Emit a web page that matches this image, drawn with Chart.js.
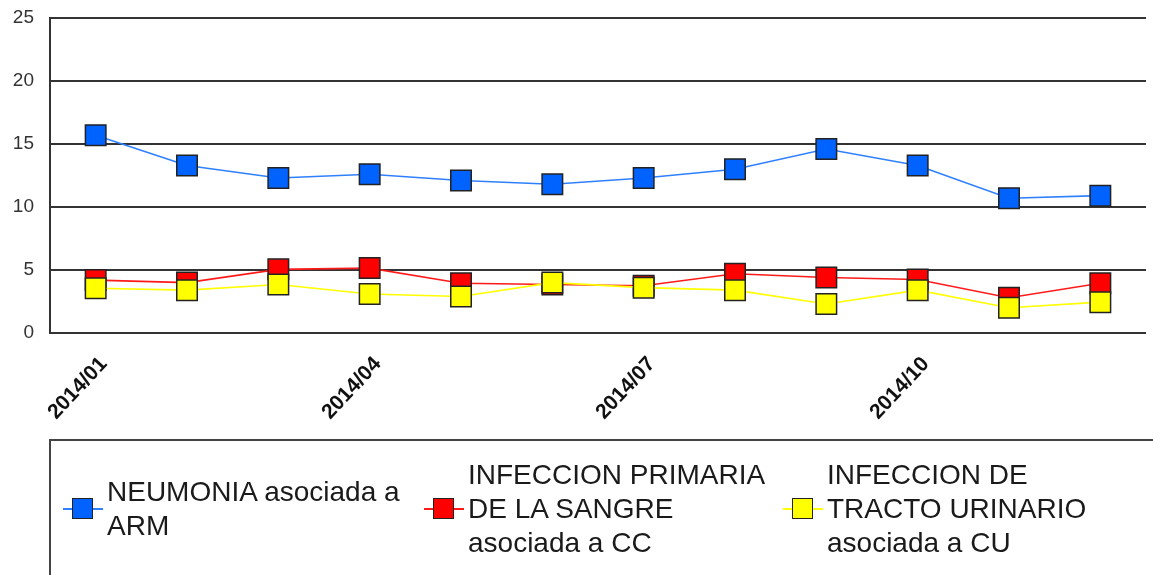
<!DOCTYPE html>
<html>
<head>
<meta charset="utf-8">
<script src="https://cdn.jsdelivr.net/npm/chart.js@4/dist/chart.umd.min.js"></script>
<style>
html,body{margin:0;padding:0;background:#fff;overflow:hidden;width:1153px;height:575px;}
#wrap{position:absolute;left:0;top:0;width:1162px;height:440px;}
#legend{position:absolute;left:49px;top:439px;width:1200px;height:200px;border:2px solid #444;box-sizing:border-box;}
.item{position:absolute;top:509px;transform:translateY(-50%);display:flex;align-items:center;}
.mk{position:relative;width:40px;height:24px;flex:none;}
.mk .ln{position:absolute;left:0;right:0;top:11px;height:2px;}
.mk .sq{position:absolute;left:9px;top:1px;width:19px;height:19px;border:1.5px solid #222;}
.tx{font-family:"Liberation Sans",Arial,sans-serif;font-size:28px;line-height:34px;color:#1a1a1a;margin-left:4px;width:320px;}
</style>
</head>
<body>
<div id="wrap"><canvas id="c" width="1162" height="440"></canvas></div>
<div id="legend"></div>
<script>
const months = ["2014/01","2014/02","2014/03","2014/04","2014/05","2014/06","2014/07","2014/08","2014/09","2014/10","2014/11","2014/12"];
const seriesNames = ["NEUMONIA asociada a ARM","INFECCION PRIMARIA DE LA SANGRE asociada a CC","INFECCION DE TRACTO URINARIO asociada a CU"];
const neumonia = [15.7, 13.3, 12.3, 12.6, 12.1, 11.8, 12.3, 13.0, 14.6, 13.3, 10.7, 10.9];
const sangre   = [4.2, 4.0, 5.05, 5.15, 3.95, 3.85, 3.75, 4.7, 4.4, 4.25, 2.8, 3.95];
const urinario = [3.55, 3.4, 3.85, 3.1, 2.9, 4.0, 3.6, 3.4, 2.3, 3.4, 2.0, 2.45];
const yTicks = [0, 5, 10, 15, 20, 25];

const lineColors = ["#2f80ff", "#ff1a1a", "#ffff00"];
const fillColors = ["#0062ff", "#ff0000", "#ffff00"];
const values = [neumonia, sangre, urinario];
const orders = [3, 2, 1];

const datasets = values.map((v, i) => ({
  label: seriesNames[i],
  data: v,
  borderColor: lineColors[i],
  borderWidth: 1.6,
  backgroundColor: fillColors[i],
  pointStyle: 'rect',
  pointRadius: 14.5,
  pointHoverRadius: 14.5,
  pointBackgroundColor: fillColors[i],
  pointBorderColor: "#222",
  pointBorderWidth: 1.5,
  tension: 0,
  fill: false,
  order: orders[i],
  clip: false
}));

new Chart(document.getElementById('c'), {
  type: 'line',
  data: { labels: months, datasets: datasets },
  options: {
    responsive: false,
    animation: false,
    events: [],
    layout: { padding: { top: 18, left: 0, right: 0, bottom: 0 } },
    plugins: { legend: { display: false }, tooltip: { enabled: false } },
    scales: {
      x: {
        offset: true,
        grid: { display: false, drawTicks: false },
        border: { display: false },
        afterFit: s => { s.height = 107; },
        ticks: {
          autoSkip: false,
          minRotation: 47,
          maxRotation: 47,
          padding: 19,
          labelOffset: 8,
          color: '#111',
          font: { family: '"Liberation Sans", Arial, sans-serif', size: 21, weight: 'bold' },
          callback: function(val, idx) { return idx % 3 === 0 ? months[idx] : ''; }
        }
      },
      y: {
        min: 0,
        max: 25,
        afterFit: s => { s.width = 50; s.paddingTop = 0; s.paddingBottom = 0; },
        afterBuildTicks: s => { s.ticks = yTicks.map(v => ({ value: v })); },
        grid: { color: '#333', lineWidth: 2, drawTicks: false },
        border: { color: '#333', width: 2 },
        ticks: {
          padding: 16,
          color: '#333',
          font: { family: '"Liberation Sans", Arial, sans-serif', size: 19 }
        }
      }
    }
  }
});

const legendPos = [63, 424, 783];
const legendLines = [
  ["NEUMONIA asociada a", "ARM"],
  ["INFECCION PRIMARIA", "DE LA SANGRE", "asociada a CC"],
  ["INFECCION DE", "TRACTO URINARIO", "asociada a CU"]
];
const lg = document.getElementById('legend');
legendLines.forEach((lines, i) => {
  const it = document.createElement('div');
  it.className = 'item';
  it.style.left = (legendPos[i] - 51) + 'px';
  it.style.top = (509 - 441) + 'px';
  it.innerHTML = '<div class="mk"><div class="ln" style="background:' + lineColors[i] + '"></div><div class="sq" style="background:' + fillColors[i] + '"></div></div>' +
    '<div class="tx">' + lines.join('<br>') + '</div>';
  lg.appendChild(it);
});
</script>
</body>
</html>
